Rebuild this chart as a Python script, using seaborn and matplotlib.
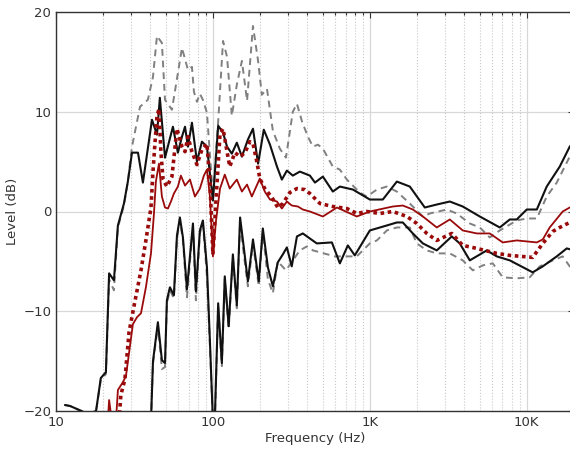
import numpy as np
import pandas as pd
import matplotlib
matplotlib.use('Agg')
import matplotlib.pyplot as plt
import matplotlib.ticker as mticker
import seaborn as sns

# upper envelope (black solid)
ub_freq = [11.4, 12.3, 13.6, 16.0, 18.0, 19.3, 20.8, 21.8, 23.4, 24.8,
           27.1, 28.7, 30.5, 33.3, 35.8, 40.9, 44.0, 45.9, 49.5, 55.6,
           59.8, 63.5, 66.4, 69.3, 73.5, 79.1, 85.1, 91.6, 100, 108,
           116, 123, 132, 142, 153, 167, 180, 194, 211, 231,
           256, 275, 296, 323, 358, 415, 447, 502, 581, 644,
           780, 1000, 1210, 1486, 1798, 2240, 2670, 3233, 3910, 5020,
           6730, 7796, 8630, 10000, 11590, 13400, 16220, 18780, 20000]
ub_level = [-19.4, -19.5, -19.8, -20.3, -20.0, -16.7, -16.1, -6.2, -6.9, -1.4,
            0.8, 3.0, 5.9, 5.9, 2.9, 9.2, 7.7, 11.4, 5.4, 8.5,
            5.9, 7.5, 8.5, 6.5, 8.9, 5.0, 7.0, 6.5, 1.1, 8.6,
            7.9, 6.5, 5.8, 6.9, 5.5, 7.2, 8.3, 4.8, 8.2, 6.7,
            4.5, 3.2, 4.1, 3.6, 4.0, 3.6, 2.9, 3.5, 2.0, 2.5,
            2.2, 1.2, 1.2, 3.0, 2.5, 0.4, 0.7, 1.0, 0.5, -0.5,
            -1.6, -0.8, -0.8, 0.2, 0.2, 2.5, 4.5, 6.5, 7.0]

# upper gray dashed
ug_freq = [11.4, 12.3, 13.6, 16.0, 18.0, 19.3, 20.8, 21.8, 23.4, 24.8,
           27.1, 28.7, 30.5, 34.3, 38.5, 41.5, 44.0, 47.3, 49.5, 54.8,
           63.5, 69.3, 73.5, 75.7, 79.1, 82.6, 86.3, 91.6, 100, 108,
           116, 123, 132, 142, 153, 165, 180, 194, 205, 221,
           241, 267, 292, 323, 343, 370, 403, 434, 467, 502,
           581, 644, 714, 863, 957, 1109, 1283, 1486, 1798, 2177,
           2410, 3093, 3581, 4335, 5020, 5810, 6730, 8630, 10000, 11590,
           13400, 15530, 18780, 20000]
ug_level = [-19.4, -19.5, -19.8, -20.3, -20.0, -16.9, -16.3, -6.8, -7.9, -1.6,
            0.6, 3.0, 6.5, 10.5, 11.2, 13.5, 17.6, 16.9, 11.2, 10.2,
            16.4, 14.2, 14.5, 12.0, 11.0, 11.8, 11.2, 9.9, 1.5, 9.0,
            17.1, 15.5, 9.6, 12.7, 15.1, 11.1, 18.6, 15.1, 11.7, 12.3,
            8.1, 6.3, 5.4, 10.0, 10.8, 9.0, 7.5, 6.5, 6.7, 6.3,
            4.5, 4.2, 3.2, 1.9, 1.5, 2.2, 2.5, 2.0, 0.8, -0.5,
            -0.2, 0.2, -0.2, -1.2, -1.6, -2.6, -1.9, -0.9, -0.7, -0.7,
            1.5, 2.9, 5.5, 6.0]

# mean (dark red solid)
mr_freq = [21.4, 21.8, 22.7, 24.1, 24.8, 26.7, 27.9, 29.6, 30.9, 32.8,
           34.8, 37.4, 40.3, 42.1, 43.3, 45.3, 47.3, 49.5, 51.7, 54.0,
           56.4, 59.8, 62.5, 66.4, 71.4, 76.8, 82.6, 87.6, 91.6, 95.7,
           100, 104.5, 111, 119, 128, 142, 153, 165, 177, 199,
           214, 231, 256, 275, 296, 318, 348, 374, 415, 502,
           617, 826, 1000, 1400, 1622, 1879, 2177, 2670, 3233, 3910,
           4806, 5810, 7030, 8630, 11590, 12650, 14000, 16950, 18780, 20000]
mr_level = [-21, -18.9, -21, -21, -17.9, -17.1, -16.5, -13.5, -11.3, -10.6,
            -10.2, -7.6, -4.2, -0.2, 3.0, 4.8, 1.5, 0.4, 0.3, 1.0,
            1.8, 2.5, 3.6, 2.6, 3.2, 1.5, 2.3, 3.6, 4.2, 1.5,
            -4.5, -1.0, 2.3, 3.7, 2.3, 3.2, 2.0, 2.7, 1.5, 3.3,
            2.0, 1.2, 1.0, 0.3, 1.0, 0.6, 0.5, 0.2, 0.0, -0.5,
            0.4, -0.5, 0.0, 0.5, 0.6, 0.2, -0.5, -1.6, -0.8, -1.9,
            -2.2, -2.2, -3.1, -2.9, -3.1, -2.8, -1.6, 0.0, 0.4, 0.5]

# dark red dotted
dr_freq = [25.2, 25.9, 27.5, 29.2, 31.4, 34.8, 37.4, 40.3, 41.5, 42.7,
           44.0, 45.3, 46.6, 48.1, 50.9, 54.8, 59.0, 63.5, 66.4, 69.3,
           73.5, 79.1, 85.1, 91.6, 95.7, 100, 104.5, 111, 116, 123,
           128, 138, 149, 160, 172, 180, 191, 199, 214, 238,
           259, 279, 309, 343, 385, 415, 481, 581, 714, 826,
           957, 1158, 1400, 1722, 1992, 2307, 2670, 3327, 3910, 4806,
           6440, 7796, 10910, 12650, 14650, 16220, 18780, 20000]
dr_level = [-21, -18.4, -16.8, -12.1, -9.5, -5.9, -2.9, 0.4, 4.0, 6.8,
            9.5, 10.3, 6.0, 3.2, 2.5, 3.5, 8.3, 6.5, 6.0, 7.5,
            6.0, 4.7, 6.2, 6.8, 3.0, -4.3, 1.0, 7.8, 8.3, 6.0,
            4.5, 5.9, 5.5, 5.9, 7.0, 6.8, 4.9, 3.3, 2.3, 1.4,
            0.4, 0.8, 1.9, 2.3, 2.2, 1.8, 0.8, 0.5, 0.3, -0.2,
            0.0, -0.2, 0.0, -0.5, -1.2, -2.2, -2.9, -2.2, -3.4, -3.7,
            -4.2, -4.4, -4.6, -3.2, -2.0, -1.6, -1.1, -0.9]

# lower envelope (black solid)
lb_freq = [40.3, 41.5, 44.6, 47.3, 49.5, 50.9, 53.2, 56.4, 59.0, 61.6,
           64.4, 68.3, 74.6, 77.9, 82.6, 86.3, 91.6, 95.7, 100, 103,
           108, 114, 119, 126, 134, 142, 149, 157, 167, 180,
           196, 208, 224, 241, 259, 279, 296, 318, 343, 374,
           459, 573, 644, 724, 802, 1000, 1283, 1486, 1622, 1879,
           2177, 2670, 3327, 3742, 4335, 5563, 6440, 7796, 10910, 12650,
           15530, 17990, 20000]
lb_level = [-21, -15.0, -11.1, -14.9, -15.2, -8.9, -7.6, -8.4, -2.4, -0.6,
            -2.6, -7.8, -1.2, -8.0, -1.9, -0.9, -5.6, -13.0, -21, -20.5,
            -9.2, -15.2, -6.5, -11.5, -4.3, -9.4, -0.6, -3.5, -7.0, -2.8,
            -7.0, -1.7, -5.6, -7.5, -5.1, -4.3, -3.6, -5.5, -2.5, -2.2,
            -3.2, -3.1, -5.2, -3.4, -4.4, -1.9, -1.4, -1.1, -1.1, -2.2,
            -3.2, -3.9, -2.5, -3.2, -4.9, -3.9, -4.5, -4.9, -6.1, -5.5,
            -4.5, -3.7, -3.9]

# lower gray dashed
lg_freq = [40.3, 41.5, 44.6, 47.3, 49.5, 50.9, 53.2, 56.4, 59.0, 61.6,
           64.4, 68.3, 74.6, 77.9, 82.6, 86.3, 91.6, 95.7, 100, 103,
           108, 114, 119, 126, 134, 142, 149, 157, 167, 180,
           196, 208, 224, 241, 259, 292, 358, 397, 434, 598,
           826, 1000, 1109, 1283, 1486, 1798, 1992, 2307, 2670, 3233,
           3910, 4532, 5248, 6073, 7030, 8630, 10440, 12100, 14650, 16950,
           18780, 20000]
lg_level = [-21, -15.3, -11.4, -15.8, -15.6, -9.2, -7.9, -8.7, -2.7, -0.9,
            -2.9, -8.6, -1.5, -8.9, -2.2, -1.2, -6.5, -13.5, -21, -20.8,
            -9.5, -15.5, -6.8, -11.8, -4.6, -9.7, -1.0, -4.2, -7.5, -3.2,
            -7.5, -2.0, -6.8, -8.2, -5.0, -5.9, -3.9, -3.5, -3.9, -4.5,
            -4.5, -3.2, -2.9, -1.9, -1.6, -1.6, -3.2, -3.9, -4.2, -4.2,
            -4.9, -5.9, -5.4, -5.2, -6.6, -6.7, -6.6, -5.5, -4.9, -4.5,
            -5.5, -5.8]

x_ticks = [10, 100, 1000, 10000]
x_tick_labels = ['10', '100', '1K', '10K']
y_ticks = [-20, -10, 0, 10, 20]

sns.set_theme(style='white')
plt.rcParams['font.family'] = ['DejaVu Sans']

fig = plt.figure(figsize=(5.7, 4.5), dpi=100)
ax = fig.add_axes([56 / 570, 39 / 450, 518 / 570, 399 / 450])
ax.set_xscale('log')

# (freq, level, color, linestyle, linewidth, zorder)
series = [
    (ug_freq, ug_level, '#808080', (0, (3.5, 2.5)), 1.4, 2),
    (lg_freq, lg_level, '#808080', (0, (3.5, 2.5)), 1.4, 2),
    (ub_freq, ub_level, '#111111', '-', 1.5, 3),
    (lb_freq, lb_level, '#111111', '-', 1.5, 3),
    (mr_freq, mr_level, '#9a0a0a', '-', 1.3, 4),
    (dr_freq, dr_level, '#9a0a0a', (0, (1, 1)), 2.6, 4),
]
for fq, lv, col, ls, lw, z in series:
    df = pd.DataFrame({'freq': fq, 'level': lv})
    sns.lineplot(data=df, x='freq', y='level', ax=ax, color=col,
                 linewidth=lw, estimator=None, sort=False, zorder=z)
    ax.lines[-1].set_linestyle(ls)

ax.set_xlim(10, 20000)
ax.set_ylim(-20, 20)
ax.set_xticks(x_ticks)
ax.set_xticklabels(x_tick_labels)
ax.xaxis.set_minor_locator(mticker.LogLocator(base=10, subs=np.arange(2, 10)))
ax.xaxis.set_minor_formatter(mticker.NullFormatter())
ax.set_yticks(y_ticks)

ax.grid(which='major', axis='both', color='#d8d8d8', linewidth=0.9, linestyle='-')
ax.grid(which='minor', axis='x', color='#c8c8c8', linewidth=0.8, linestyle=':')
ax.set_axisbelow(True)

ax.tick_params(which='both', direction='in', top=True, right=True,
               colors='#333333', labelsize=9.5, length=4, width=0.8)
ax.tick_params(which='minor', length=2.5)
for s in ax.spines.values():
    s.set_color('#333333')
    s.set_linewidth(1.0)

ax.set_xlabel('Frequency (Hz)', fontsize=9.5, color='#333333', labelpad=2)
ax.set_ylabel('Level (dB)', fontsize=9.5, color='#333333', labelpad=3)

fig.savefig('out.png', dpi=100)
